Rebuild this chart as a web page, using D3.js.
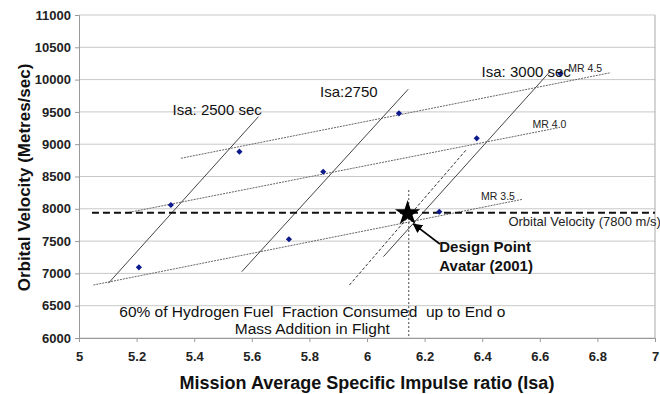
<!DOCTYPE html>
<html>
<head>
<meta charset="utf-8">
<script src="https://cdn.jsdelivr.net/npm/d3@7"></script>
<style>
  body { margin: 0; background: #fff; }
  svg { font-family: "Liberation Sans", Arial, sans-serif; }
</style>
</head>
<body>
<div id="chart"></div>
<script>
// data
var isaRatio = [5.208, 5.319, 5.557, 5.729, 5.848, 6.111, 6.251, 6.381, 6.672];
var velocity = [7094, 8059, 8884, 7528, 8574, 9478, 7955, 9091, 10090];

// constant Isa lines [x1, v1, x2, v2]
var isaNames = ["Isa: 2500 sec", "Isa:2750", "Isa: 3000 sec"];
var isaLines = [
  [5.102, 6847, 5.623, 9426],
  [5.565, 7026, 6.143, 9850],
  [6.057, 7259, 6.635, 10123]
];
// mass ratio lines
var mrNames = ["MR 3.5", "MR 4.0", "MR 4.5"];
var mrLines = [
  [5.05, 6820, 6.54, 8147],
  [5.163, 7935, 6.664, 9255],
  [5.354, 8782, 6.846, 10107]
];
var designLine = [5.939, 6820, 6.346, 8921];
var orbitalV = 7940;
var designIsa = 6.145;
var designVel = 7930;

var xTicks = [5, 5.2, 5.4, 5.6, 5.8, 6, 6.2, 6.4, 6.6, 6.8, 7];
var yTicks = [6000, 6500, 7000, 7500, 8000, 8500, 9000, 9500, 10000, 10500, 11000];

var width = 660, height = 394;
var margin = {left: 79, right: 5, top: 15, bottom: 56};

var svg = d3.select("#chart").append("svg")
    .attr("width", width)
    .attr("height", height);

var x = d3.scaleLinear().domain([5, 7]).range([margin.left, width - margin.right]);
var y = d3.scaleLinear().domain([6000, 11000]).range([height - margin.bottom, margin.top]);

// grid
svg.append("g").selectAll("line")
    .data(yTicks)
    .enter().append("line")
    .attr("x1", x(5)).attr("x2", x(7))
    .attr("y1", d => y(d)).attr("y2", d => y(d))
    .attr("stroke", "#c8c8c8");

// frame
svg.append("line").attr("x1", x(7)).attr("x2", x(7)).attr("y1", y(6000)).attr("y2", y(11000))
    .attr("stroke", "#aaa");

var xAxis = svg.append("g")
    .attr("transform", "translate(0," + y(6000) + ")")
    .call(d3.axisBottom(x).tickValues(xTicks).tickSize(4).tickPadding(10).tickFormat(d3.format("")));
var yAxis = svg.append("g")
    .attr("transform", "translate(" + x(5) + ",0)")
    .call(d3.axisLeft(y).tickValues(yTicks).tickSize(4).tickPadding(4).tickFormat(d3.format("")));

[xAxis, yAxis].forEach(function(a){
  a.select(".domain").attr("stroke", "#999");
  a.selectAll(".tick line").attr("stroke", "#999");
  a.selectAll("text")
    .attr("fill", "#222")
    .style("font-size", "13px")
    .style("font-weight", "bold")
    .style("font-family", "'Liberation Sans', Arial, sans-serif");
});

var seg = function(d){ return "M" + x(d[0]) + "," + y(d[1]) + "L" + x(d[2]) + "," + y(d[3]); };

// MR lines
svg.append("g").selectAll("path")
    .data(mrLines)
    .enter().append("path")
    .attr("d", seg)
    .attr("stroke", "#666")
    .attr("stroke-width", 1)
    .attr("stroke-dasharray", "2,1");

// Isa lines
svg.append("g").selectAll("path")
    .data(isaLines)
    .enter().append("path")
    .attr("d", seg)
    .attr("stroke", "#444")
    .attr("stroke-width", 1);

// design dashed diagonal
svg.append("path")
    .attr("d", seg(designLine))
    .attr("stroke", "#333")
    .attr("stroke-dasharray", "3,2");

// vertical dotted at design Isa
svg.append("line")
    .attr("x1", x(designIsa)).attr("x2", x(designIsa))
    .attr("y1", y(8290)).attr("y2", y(6000))
    .attr("stroke", "#444")
    .attr("stroke-dasharray", "2,2");

// orbital velocity
svg.append("line")
    .attr("x1", x(5.045)).attr("x2", x(7))
    .attr("y1", y(orbitalV)).attr("y2", y(orbitalV))
    .attr("stroke", "#111")
    .attr("stroke-width", 2)
    .attr("stroke-dasharray", "7,4");

// points
svg.append("g").selectAll("path")
    .data(isaRatio)
    .enter().append("path")
    .attr("d", d3.symbol().type(d3.symbolSquare).size(19))
    .attr("transform", (d, i) => "translate(" + x(d) + "," + y(velocity[i]) + ") rotate(45)")
    .attr("fill", "#0d1a8c");

// star
svg.append("path")
    .attr("d", d3.symbol().type(d3.symbolStar).size(200))
    .attr("transform", "translate(" + x(designIsa - 0.004) + "," + y(designVel) + ")")
    .attr("fill", "#000");

// arrow
svg.append("defs").append("marker")
    .attr("id", "arr").attr("viewBox", "0 0 10 10")
    .attr("refX", 9).attr("refY", 5)
    .attr("markerWidth", 6).attr("markerHeight", 6)
    .attr("orient", "auto")
  .append("path").attr("d", "M0,0L10,5L0,10z").attr("fill", "#000");
svg.append("line")
    .attr("x1", x(6.253)).attr("y1", y(7455))
    .attr("x2", x(6.161)).attr("y2", y(7765))
    .attr("stroke", "#000").attr("stroke-width", 1.6)
    .attr("marker-end", "url(#arr)");

// labels
function label(t, xv, yv, size, opts){
  opts = opts || {};
  svg.append("text")
    .attr("x", x(xv)).attr("y", y(yv))
    .attr("text-anchor", opts.anchor || "start")
    .style("font-size", size + "px")
    .style("font-weight", opts.bold ? "bold" : "normal")
    .attr("fill", opts.fill || "#111")
    .text(t);
}
label(isaNames[0], 5.325, 9452, 15);
label(isaNames[1], 5.837, 9726, 15);
label(isaNames[2], 6.398, 10036, 15);
label(mrNames[2], 6.699, 10113, 10.5, {fill: "#222"});
label(mrNames[1], 6.575, 9255, 10.5, {fill: "#222"});
label(mrNames[0], 6.396, 8136, 10.5, {fill: "#222"});
label("Orbital Velocity (7800 m/s)", 6.491, 7734, 13, {fill: "#222"});
label("Design Point", 6.251, 7336, 15, {bold: true});
label("Avatar (2001)", 6.251, 7042, 15, {bold: true});
label("60% of Hydrogen Fuel  Fraction Consumed  up to End o", 5.81, 6320, 15.5, {anchor: "middle"});
label("Mass Addition in Flight", 5.81, 6062, 15.5, {anchor: "middle"});

svg.selectAll("text").attr("xml:space", "preserve").style("white-space", "pre");

// axis titles
svg.append("text")
    .attr("x", (x(5) + x(7)) / 2).attr("y", 389)
    .attr("text-anchor", "middle")
    .style("font-size", "18px").style("font-weight", "bold")
    .attr("fill", "#111")
    .text("Mission Average Specific Impulse ratio (Isa)");
svg.append("text")
    .attr("transform", "translate(30," + (y(8500) + 1) + ") rotate(-90)")
    .attr("text-anchor", "middle")
    .style("font-size", "17px").style("font-weight", "bold")
    .attr("fill", "#111")
    .text("Orbital Velocity (Metres/sec)");
</script>
</body>
</html>
